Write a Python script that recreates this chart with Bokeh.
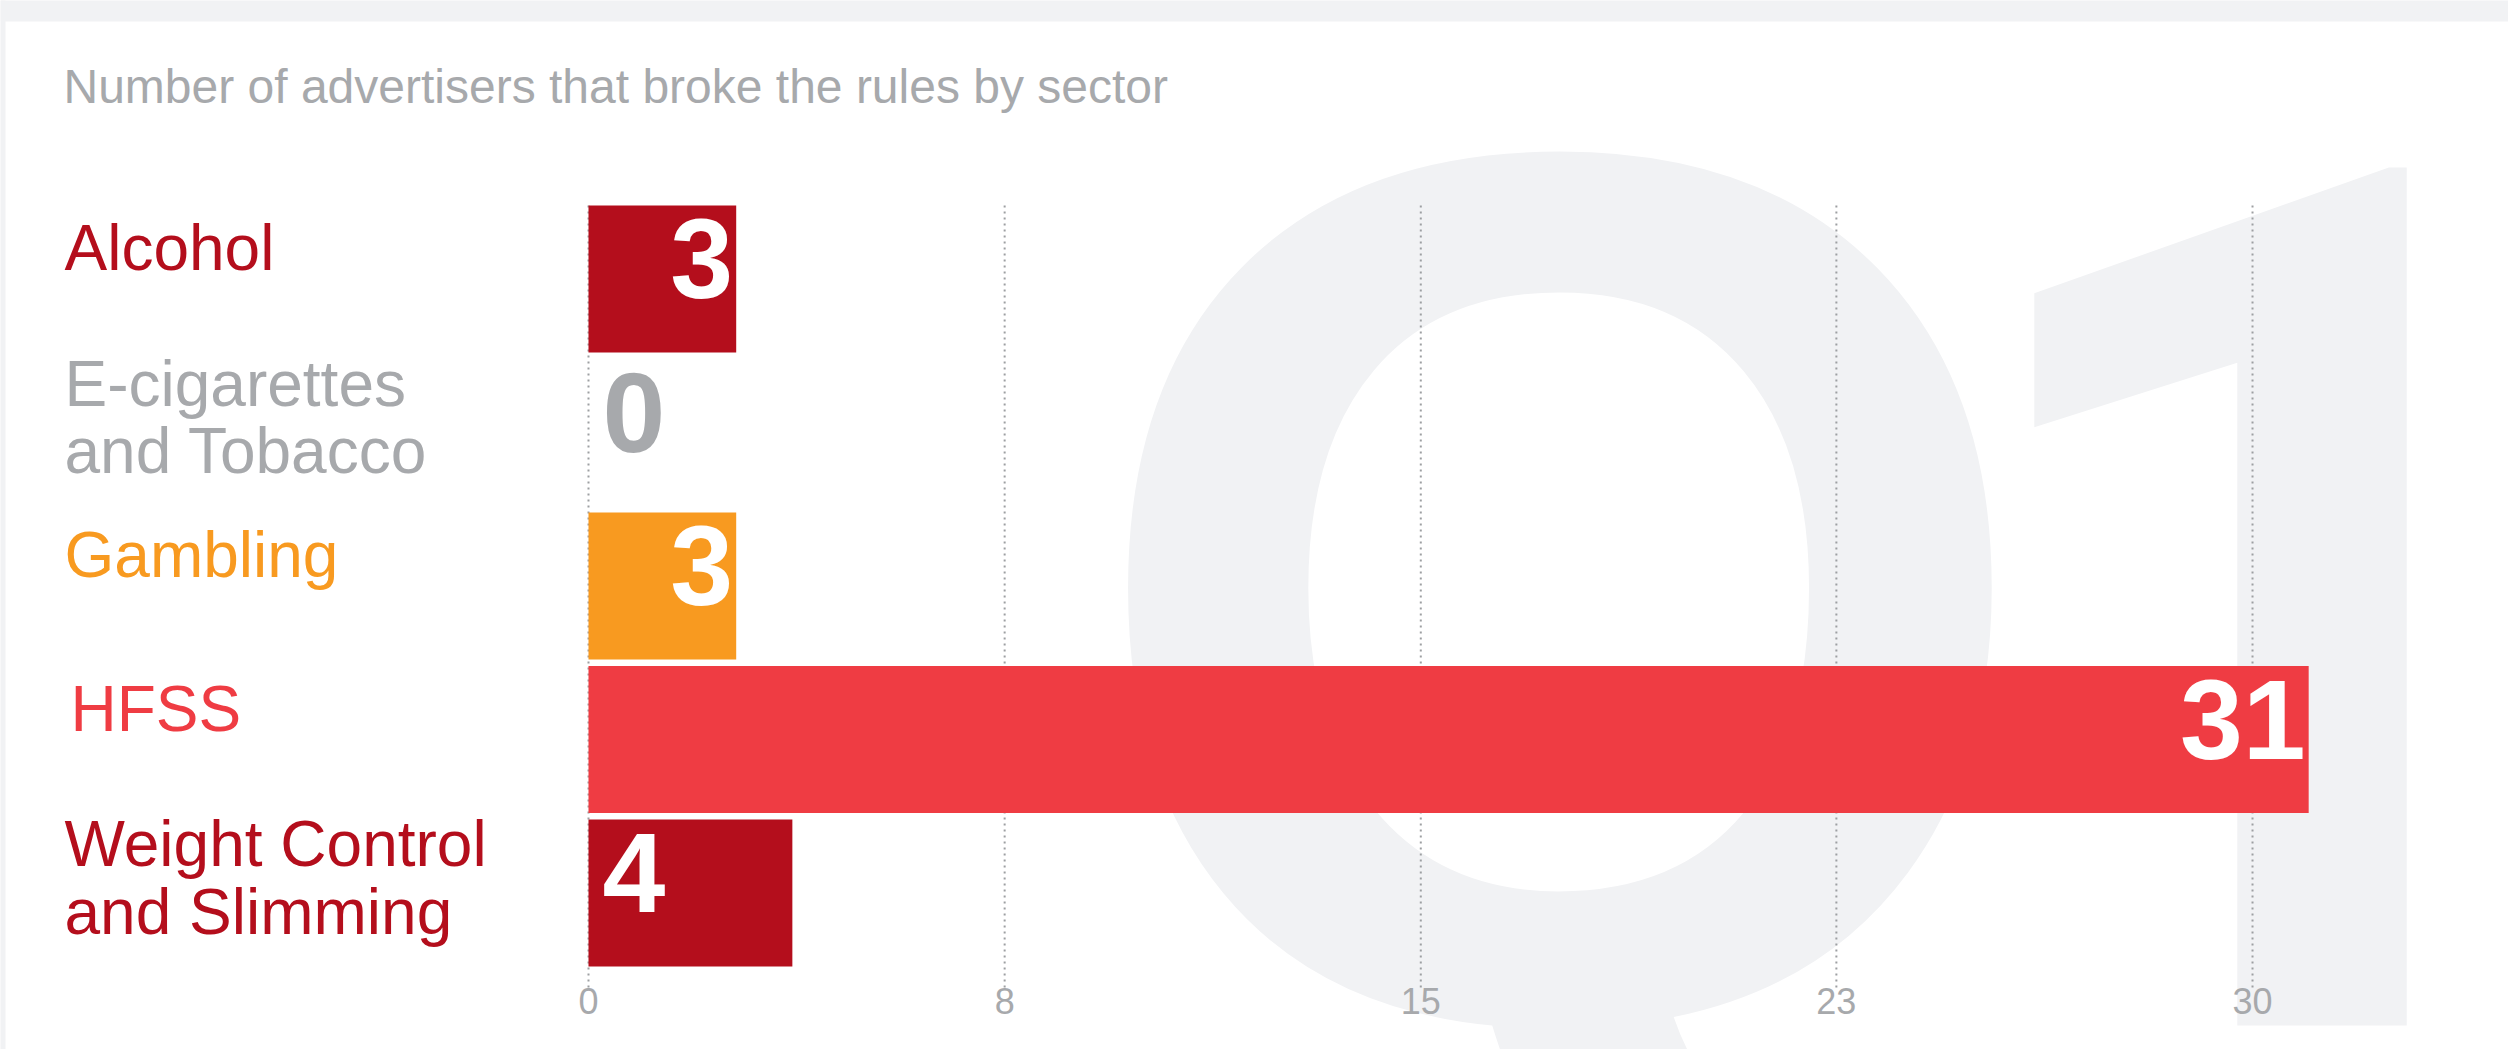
import numpy as np
from bokeh.plotting import figure
from bokeh.models import (Range1d, FixedTicker, ColumnDataSource, LabelSet, Label,
                          BoxAnnotation, NumeralTickFormatter)
from bokeh.embed import file_html
from bokeh.resources import INLINE
from bokeh.core.properties import value, field

# ---------------- data ----------------
categories = ["Alcohol", "E-cigarettes\nand Tobacco", "Gambling", "HFSS",
              "Weight Control\nand Slimming"]
counts = [3, 0, 3, 31, 4]
sector_colors = ["#b40e1c", "#a7a9ac", "#f89a20", "#ef3c43", "#b40e1c"]
axis_min = 0.37
tick_values = [0.37, 7.78, 15.19, 22.59, 30.0]
tick_labels = ["0", "8", "15", "23", "30"]
title_text = "Number of advertisers that broke the rules by sector"
watermark_q = "Q"
watermark_1 = "1"

# ---------------- layout / style ----------------
count_label_side = ["right", "left", "right", "right", "left"]
W, H = 2508, 1049
PX_PER_UNIT = 56.16
ZERO_PAGE_X = 588.0
ROW_PITCH = 153.5
ROW0_PAGE_Y = 278.5
BAR_H = 0.958
GRID_TOP_PAGE = 205.0
GRID_BOTTOM_PAGE = 987.0
GREY_TXT = "#a7a9ac"
WM = "#f1f2f4"
FONT = "Liberation Sans"


def page_to_row(py):
    return (py - ROW0_PAGE_Y) / ROW_PITCH


x_start = axis_min - ZERO_PAGE_X / PX_PER_UNIT
x_end = axis_min + (W - ZERO_PAGE_X) / PX_PER_UNIT

p = figure(width=W, height=H,
           x_range=Range1d(x_start, x_end),
           y_range=Range1d(page_to_row(H), page_to_row(0)),
           output_backend="svg", toolbar_location=None,
           y_axis_location=None, min_border=0,
           background_fill_color="white", border_fill_color="white",
           outline_line_color=None)
p.xgrid.visible = False
p.ygrid.visible = False

# watermark (drawn first, behind everything)
p.add_layout(Label(x=1560, y=461, x_units="screen", y_units="screen",
                   text=watermark_q, text_align="center", text_baseline="alphabetic",
                   text_font=FONT, text_font_style="bold", text_font_size="1243px",
                   text_color=WM, level="image"))
p.add_layout(Label(x=2626, y=457, x_units="screen", y_units="screen",
                   text=watermark_1, text_align="right", text_baseline="alphabetic",
                   text_font="Roboto", text_font_style="bold", text_font_size="1205px",
                   text_color=WM, level="image"))

# dotted grid lines at the tick positions
p.segment(x0=tick_values, x1=tick_values,
          y0=page_to_row(GRID_TOP_PAGE), y1=page_to_row(GRID_BOTTOM_PAGE),
          line_color="#9d9fa2", line_width=2, line_dash="2 4")

rows = list(range(len(categories)))
src = ColumnDataSource(dict(
    y=rows,
    cat=categories,
    count=counts,
    right=[max(c, axis_min) for c in counts],
    color=sector_colors,
    label=[str(c) for c in counts],
    lx=[c if s == "right" else axis_min for c, s in zip(counts, count_label_side)],
    align=["right" if s == "right" else "left" for s in count_label_side],
    xoff=[-3 if s == "right" else 14 for s in count_label_side],
    lcolor=["white" if c > 0 else col for c, col in zip(counts, sector_colors)],
    cx=[64, 64, 64, 70, 64],
    cyoff=[31 if "\n" not in c else 15 for c in categories],
))

p.hbar(y="y", left=axis_min, right="right", height=BAR_H, fill_color="color",
       line_color=None, source=src)

p.text(x="lx", y="y", text="label", text_align=field("align"), x_offset="xoff",
       y_offset=-20, text_baseline="alphabetic", text_font=value(FONT),
       text_font_style="bold", text_font_size="113px", text_color="lcolor", source=src)

# category labels
p.add_layout(LabelSet(x="cx", y="y", x_units="screen", y_units="data", text="cat",
                      text_color="color", text_font=value(FONT), text_font_size="64px",
                      text_baseline="middle", text_align="left", y_offset="cyoff",
                      text_line_height=0.94, source=src))

# title
p.add_layout(Label(x=63, y=H - 86, x_units="screen", y_units="screen", text=title_text,
                   text_font=FONT, text_font_size="48px", text_color=GREY_TXT,
                   text_baseline="alphabetic"))

# x axis
ax = p.xaxis[0]
ax.ticker = FixedTicker(ticks=tick_values, minor_ticks=[])
ax.formatter = NumeralTickFormatter(format="0")
ax.major_label_overrides = dict(zip(tick_values, tick_labels))
ax.fixed_location = page_to_row(GRID_BOTTOM_PAGE)
ax.axis_line_color = None
ax.major_tick_line_color = None
ax.minor_tick_line_color = None
ax.major_tick_out = 0
ax.major_tick_in = 0
ax.major_label_standoff = 0
ax.major_label_text_font = FONT
ax.major_label_text_font_size = "36px"
ax.major_label_text_color = GREY_TXT

# page grey border (top band and left strip)
p.add_layout(BoxAnnotation(left=0, right=W, bottom=H - 21, top=H + 5,
                           left_units="screen", right_units="screen",
                           bottom_units="screen", top_units="screen",
                           fill_color=WM, fill_alpha=1, line_color=None))
p.add_layout(BoxAnnotation(left=-5, right=5, bottom=-5, top=H + 5,
                           left_units="screen", right_units="screen",
                           bottom_units="screen", top_units="screen",
                           fill_color=WM, fill_alpha=1, line_color=None))

open("out.html", "w").write(file_html(p, INLINE))
